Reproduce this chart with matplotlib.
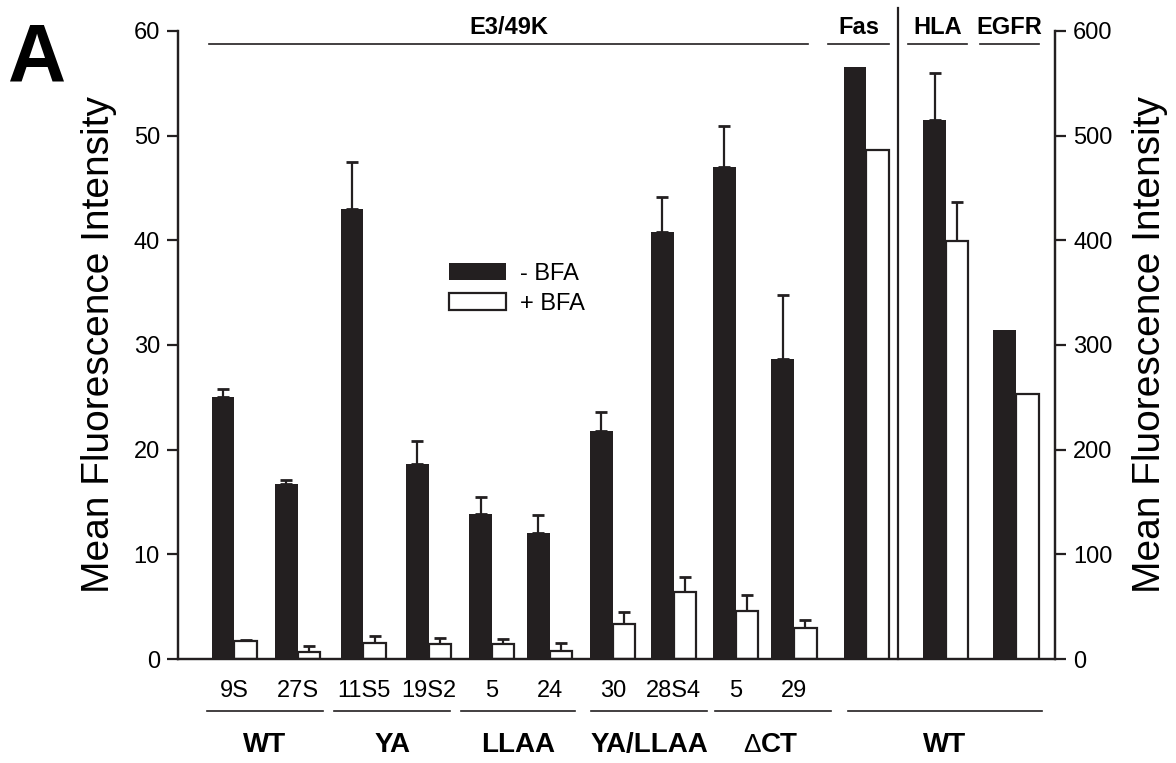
import matplotlib
matplotlib.use('Agg')
import matplotlib.pyplot as plt
import numpy as np

plt.rcParams['font.family'] = ['Liberation Sans', 'DejaVu Sans']

# E3/49K constructs (left axis)
clones = ['9S', '27S', '11S5', '19S2', '5', '24', '30', '28S4', '5', '29']
minus_bfa = [25.0, 16.7, 43.0, 18.6, 13.9, 12.0, 21.8, 40.8, 47.0, 28.7]
minus_err = [0.8, 0.4, 4.5, 2.2, 1.6, 1.8, 1.8, 3.3, 3.9, 6.1]
plus_bfa = [1.7, 0.7, 1.5, 1.4, 1.4, 0.8, 3.3, 6.4, 4.6, 3.0]
plus_err = [0.1, 0.5, 0.7, 0.6, 0.5, 0.7, 1.2, 1.4, 1.5, 0.7]

# controles (eje derecho)
controls = ['Fas', 'HLA', 'EGFR']
ctrl_minus = [566, 515, 314]
ctrl_minus_err = [0, 45, 0]
ctrl_plus = [486, 399, 253]
ctrl_plus_err = [0, 38, 0]

groups = ['WT', 'YA', 'LLAA', 'YA/LLAA', 'CT']

dark = '#231f20'
w = 0.365

# posiciones de cada par
x = np.array([0, 1.02, 2.08, 3.13, 4.15, 5.08, 6.10, 7.08, 8.08, 9.02])
xc = np.array([10.19, 11.47, 12.60])

fig = plt.figure(figsize=(11.76, 7.63), dpi=100)
ax = fig.add_axes([0.1514, 0.1363, 0.7457, 0.8231])
ax2 = ax.twinx()

# barras negras y blancas
ax.bar(x - w / 2, minus_bfa, w, color=dark, linewidth=0, zorder=2)
ax.bar(x + w / 2, plus_bfa, w, color='white', edgecolor=dark, linewidth=1.6, zorder=2)
ax.errorbar(x - w / 2, minus_bfa, yerr=[np.zeros(10), minus_err], fmt='none',
            ecolor=dark, elinewidth=1.6, capsize=4, capthick=2, zorder=1)
ax.errorbar(x + w / 2, plus_bfa, yerr=[np.zeros(10), plus_err], fmt='none',
            ecolor=dark, elinewidth=1.6, capsize=4, capthick=2, zorder=1)

ax2.bar(xc - w / 2, ctrl_minus, w, color=dark, linewidth=0, zorder=2, label='- BFA')
ax2.bar(xc + w / 2, ctrl_plus, w, color='white', edgecolor=dark, linewidth=1.6, zorder=2,
        label='+ BFA')
ax2.errorbar(xc[1:2] - w / 2, ctrl_minus[1:2], yerr=[[0], ctrl_minus_err[1:2]], fmt='none',
             ecolor=dark, elinewidth=1.6, capsize=4, capthick=2, zorder=1)
ax2.errorbar(xc[1:2] + w / 2, ctrl_plus[1:2], yerr=[[0], ctrl_plus_err[1:2]], fmt='none',
             ecolor=dark, elinewidth=1.6, capsize=4, capthick=2, zorder=1)

ax.set_xlim(-0.91, 13.23)
ax.set_ylim(0, 60)
ax2.set_ylim(0, 600)
ax.set_yticks(np.arange(0, 61, 10))
ax2.set_yticks(np.arange(0, 601, 100))
ax.set_xticks(x)
ax.set_xticklabels(clones, fontsize=17)
ax.tick_params(axis='x', length=0, pad=15)
for a in (ax, ax2):
    a.tick_params(axis='y', labelsize=17, length=8, width=1.6, color=dark, pad=5)
    a.spines['top'].set_visible(False)
    for s in ['left', 'right', 'bottom']:
        a.spines[s].set_linewidth(1.6)
        a.spines[s].set_color(dark)

ax.set_ylabel('Mean Fluorescence Intensity', fontsize=28, labelpad=12)
ax2.set_ylabel('Mean Fluorescence Intensity', fontsize=28, labelpad=14, rotation=90)

# etiquetas de grupo abajo
starts = [x[0] - 0.44, x[2] - 0.47, x[4] - 0.50, x[6] - 0.35, x[8] - 0.33]
ends = [x[1] + 0.40, x[3] + 0.35, x[5] + 0.41, x[7] + 0.54, x[9] + 0.60]
for s, e, g in zip(starts, ends, groups):
    ax.plot([s, e], [-5.0, -5.0], color=dark, lw=1.2, clip_on=False)
    if g == 'CT':
        mid = (s + e) / 2
        ax.text(mid - 0.2, -8.2, '\u0394', ha='right', va='center', fontsize=19,
                clip_on=False)
        ax.text(mid - 0.2, -8.2, 'CT', ha='left', va='center', fontsize=20,
                fontweight='bold', clip_on=False)
    else:
        ax.text((s + e) / 2, -8.2, g, ha='center', va='center', fontsize=20,
                fontweight='bold', clip_on=False)
ax.plot([xc[0] - 0.30, xc[2] + 0.42], [-5.0, -5.0], color=dark, lw=1.2, clip_on=False)
ax.text((xc[0] - 0.30 + xc[2] + 0.42) / 2, -8.2, 'WT', ha='center', va='center',
        fontsize=20, fontweight='bold', clip_on=False)

# etiquetas arriba
ax.plot([-0.41, 9.25], [58.8, 58.8], color=dark, lw=1.2, clip_on=False)
ax.text(4.42, 60.3, 'E3/49K', ha='center', va='center', fontsize=17,
        fontweight='bold', clip_on=False)
top_spans = [(9.57, 10.55), (10.86, 11.81), (12.02, 12.98)]
for (s, e), c in zip(top_spans, controls):
    ax.plot([s, e], [58.8, 58.8], color=dark, lw=1.2, clip_on=False)
    ax.text((s + e) / 2, 60.3, c, ha='center', va='center', fontsize=17,
            fontweight='bold', clip_on=False)
ax.plot([10.7, 10.7], [0, 62.2], color=dark, lw=1.6, clip_on=False)

ax2.legend(loc='upper left', bbox_to_anchor=(0.285, 0.665), frameon=False, fontsize=17,
           handlelength=2.4, handleheight=0.75, labelspacing=0.35, handletextpad=0.6)

fig.text(0.007, 0.922, 'A', ha='left', va='center', fontsize=58, fontweight='bold')

plt.savefig('out.png')
